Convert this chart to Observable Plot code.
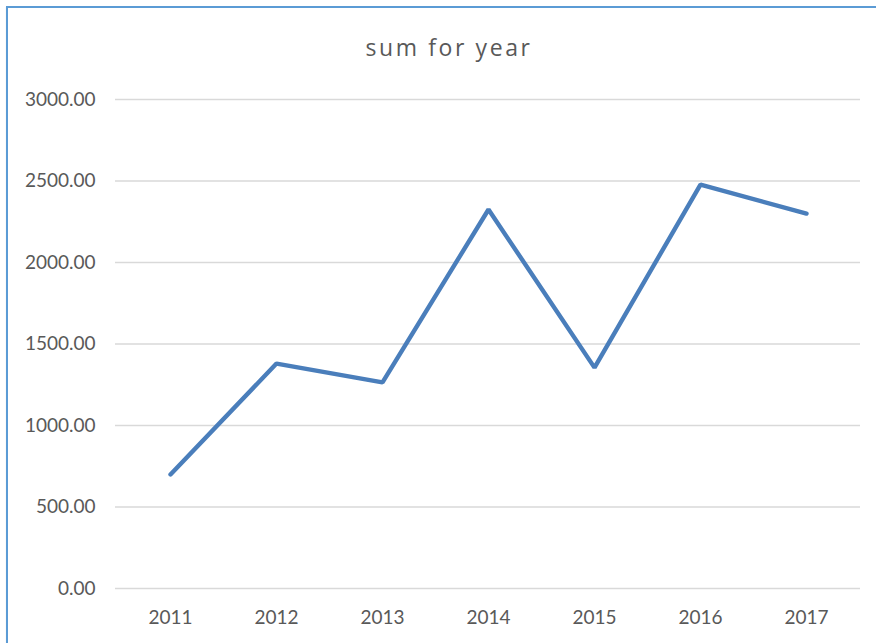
<!DOCTYPE html>
<html>
<head>
<meta charset="utf-8">
<script src="https://cdn.jsdelivr.net/npm/d3@7"></script>
<script src="https://cdn.jsdelivr.net/npm/@observablehq/plot@0.6"></script>
<style>
  html, body { margin: 0; padding: 0; background: #fff; }
  #wrap { position: relative; width: 876px; height: 643px; overflow: hidden; background: #fff; }
  #wrap svg { position: absolute; left: 0; top: 0; }
  #border { position: absolute; left: 6px; top: 6px; right: -4px; bottom: -4px;
            border-left: 2px solid #5b9bd5; border-top: 2px solid #5b9bd5;
            box-shadow: 0 1px 1px rgba(0,0,0,0.12); pointer-events: none; }
  #title { position: absolute; left: 20px; width: 858px; top: 31px; text-align: center;
           font-family: "Open Sans", sans-serif; font-size: 23px; letter-spacing: 2.6px; color: #595959; }
</style>
</head>
<body>
<div id="wrap">
  <div id="title">sum for year</div>
</div>
<script>
const years = ["2011", "2012", "2013", "2014", "2015", "2016", "2017"];
const sums = [700, 1380, 1265, 2325, 1355, 2478, 2300];
const yTicks = [0, 500, 1000, 1500, 2000, 2500, 3000];

const data = years.map((y, i) => ({year: y, sum: sums[i]}));

const chart = Plot.plot({
  width: 876,
  height: 643,
  marginLeft: 115,
  marginRight: 16,
  marginTop: 99,
  marginBottom: 55,
  style: {fontFamily: "Lato, sans-serif", fontSize: "19px", color: "#595959", background: "transparent"},
  x: {type: "point", domain: years, padding: 0.5, label: null},
  y: {domain: [0, 3000], ticks: yTicks, label: null},
  marks: [
    Plot.gridY(yTicks, {stroke: "#d9d9d9", strokeOpacity: 1, strokeWidth: 1.3}),
    Plot.axisY(yTicks, {tickSize: 0, tickPadding: 20, tickFormat: d => d.toFixed(2), fill: "#595959", fontSize: 19, letterSpacing: 0.3}),
    Plot.axisX(years, {tickSize: 0, tickPadding: 22, fill: "#595959", fontSize: 19, letterSpacing: 0.3}),
    Plot.line(data, {x: "year", y: "sum", stroke: "#4a7ebb", strokeWidth: 4.4, strokeLinejoin: "miter", strokeLinecap: "round"})
  ]
});
const wrap = document.getElementById("wrap");
wrap.insertBefore(chart, wrap.firstChild);
const b = document.createElement("div");
b.id = "border";
wrap.appendChild(b);
</script>
</body>
</html>
